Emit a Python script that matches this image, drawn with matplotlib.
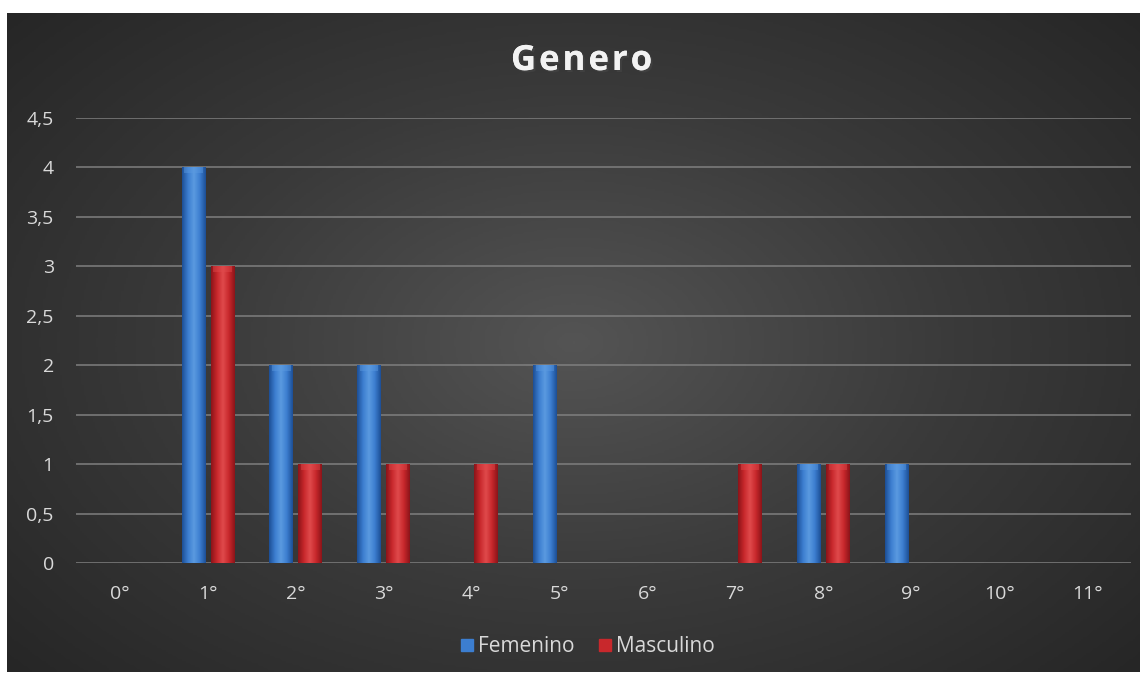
import numpy as np
import matplotlib
matplotlib.use("Agg")
import matplotlib.pyplot as plt
from matplotlib.patches import Patch
import matplotlib.patheffects as pe

# data
grados = ["0°", "1°", "2°", "3°", "4°", "5°", "6°", "7°", "8°", "9°", "10°", "11°"]
femenino = [0, 4, 2, 2, 0, 2, 0, 0, 1, 1, 0, 0]
masculino = [0, 3, 1, 1, 1, 0, 0, 1, 1, 0, 0, 0]
series = ["Femenino", "Masculino"]
titulo = "Genero"

plt.rcParams['font.family'] = ['Open Sans', 'DejaVu Sans']
txt = "#d9d9d9"

fig = plt.figure(figsize=(11.47, 6.79), dpi=100)
fig.patch.set_facecolor("white")

# dark chart area with radial gradient
bg = fig.add_axes([7 / 1147, 7 / 679, 1133 / 1147, 659 / 679])
yy, xx = np.mgrid[-1:1:300j, -1:1:500j]
r = np.sqrt(xx ** 2 + (yy * 0.9) ** 2)
bg.imshow(r, cmap=plt.cm.colors.LinearSegmentedColormap.from_list(
    "bg", ["#545454", "#3a3a3a", "#262626"]), vmin=0, vmax=1.35,
    aspect="auto", extent=[0, 1, 0, 1])
bg.set_axis_off()

ax = fig.add_axes([76 / 1147, (679 - 563) / 679, 1055 / 1147, 445 / 679])
ax.set_facecolor("none")
x = np.arange(len(grados))
w = 0.27
off = 0.165


def shaded(bars, dark, mid, light):
    cmap = plt.cm.colors.LinearSegmentedColormap.from_list(
        "c", [dark, mid, light, mid, dark])
    grad = np.linspace(0, 1, 64).reshape(1, -1)
    for b in bars:
        if b.get_height() <= 0:
            continue
        x0, y0 = b.get_x(), b.get_y()
        im = ax.imshow(grad, cmap=cmap, aspect="auto", zorder=3,
                       extent=[x0, x0 + b.get_width(), y0, y0 + b.get_height()])
        im.set_clip_path(b)
        # light cap at the top
        ax.add_patch(plt.Rectangle((x0 + 0.03, y0 + b.get_height() - 0.06), b.get_width() - 0.06, 0.06,
                                   color=light, alpha=0.45, zorder=4, lw=0))


b1 = ax.bar(x - off, femenino, w, color="#3b78c8", zorder=2, lw=0)
b2 = ax.bar(x + off, masculino, w, color="#c2282b", zorder=2, lw=0)
shaded(b1, "#1d4f96", "#3c7ed0", "#5b9ae0")
shaded(b2, "#8c1419", "#c8282c", "#e04a4c")

ax.set_xlim(-0.5, len(grados) - 0.5)
ax.set_ylim(0, 4.5)
ax.set_yticks(np.arange(0, 4.51, 0.5))
ax.set_yticklabels([f"{v:g}".replace(".", ",") for v in np.arange(0, 4.51, 0.5)])
ax.set_xticks(x)
ax.set_xticklabels(grados)
ax.grid(axis="y", color="#7f7f7f", lw=1.1, zorder=0)
for s in ax.spines.values():
    s.set_visible(False)
ax.tick_params(length=0, colors=txt, labelsize=14)
ax.tick_params(axis="y", pad=16)
ax.tick_params(axis="x", pad=16)

# title with a bit of letter spacing
renderer = fig.canvas.get_renderer()
letras = []
for ch in titulo:
    t = fig.text(0, 1 - 61 / 679, ch, ha="left", va="center", color="#f2f2f2",
                 fontsize=25, fontweight="bold",
                 path_effects=[pe.withSimplePatchShadow(offset=(1.5, -1.5), alpha=0.5),
                               pe.Normal()])
    letras.append(t)
anchos = [t.get_window_extent(renderer).width for t in letras]
espacio = 3.0
total = sum(anchos) + espacio * (len(letras) - 1)
pos = (1147 - total) / 2 + 8
for t, a in zip(letras, anchos):
    t.set_x(pos / 1147)
    pos += a + espacio

handles = [Patch(color="#3c7ed0"), Patch(color="#c8282c")]
fig.legend(handles, series, loc="center", bbox_to_anchor=(588 / 1147, 1 - 647 / 679),
           ncol=2, frameon=False, labelcolor=txt, fontsize=15,
           handlelength=0.55, handleheight=0.55, handletextpad=0.25, columnspacing=1.2)

fig.savefig("out.png", dpi=100, facecolor=fig.get_facecolor())
